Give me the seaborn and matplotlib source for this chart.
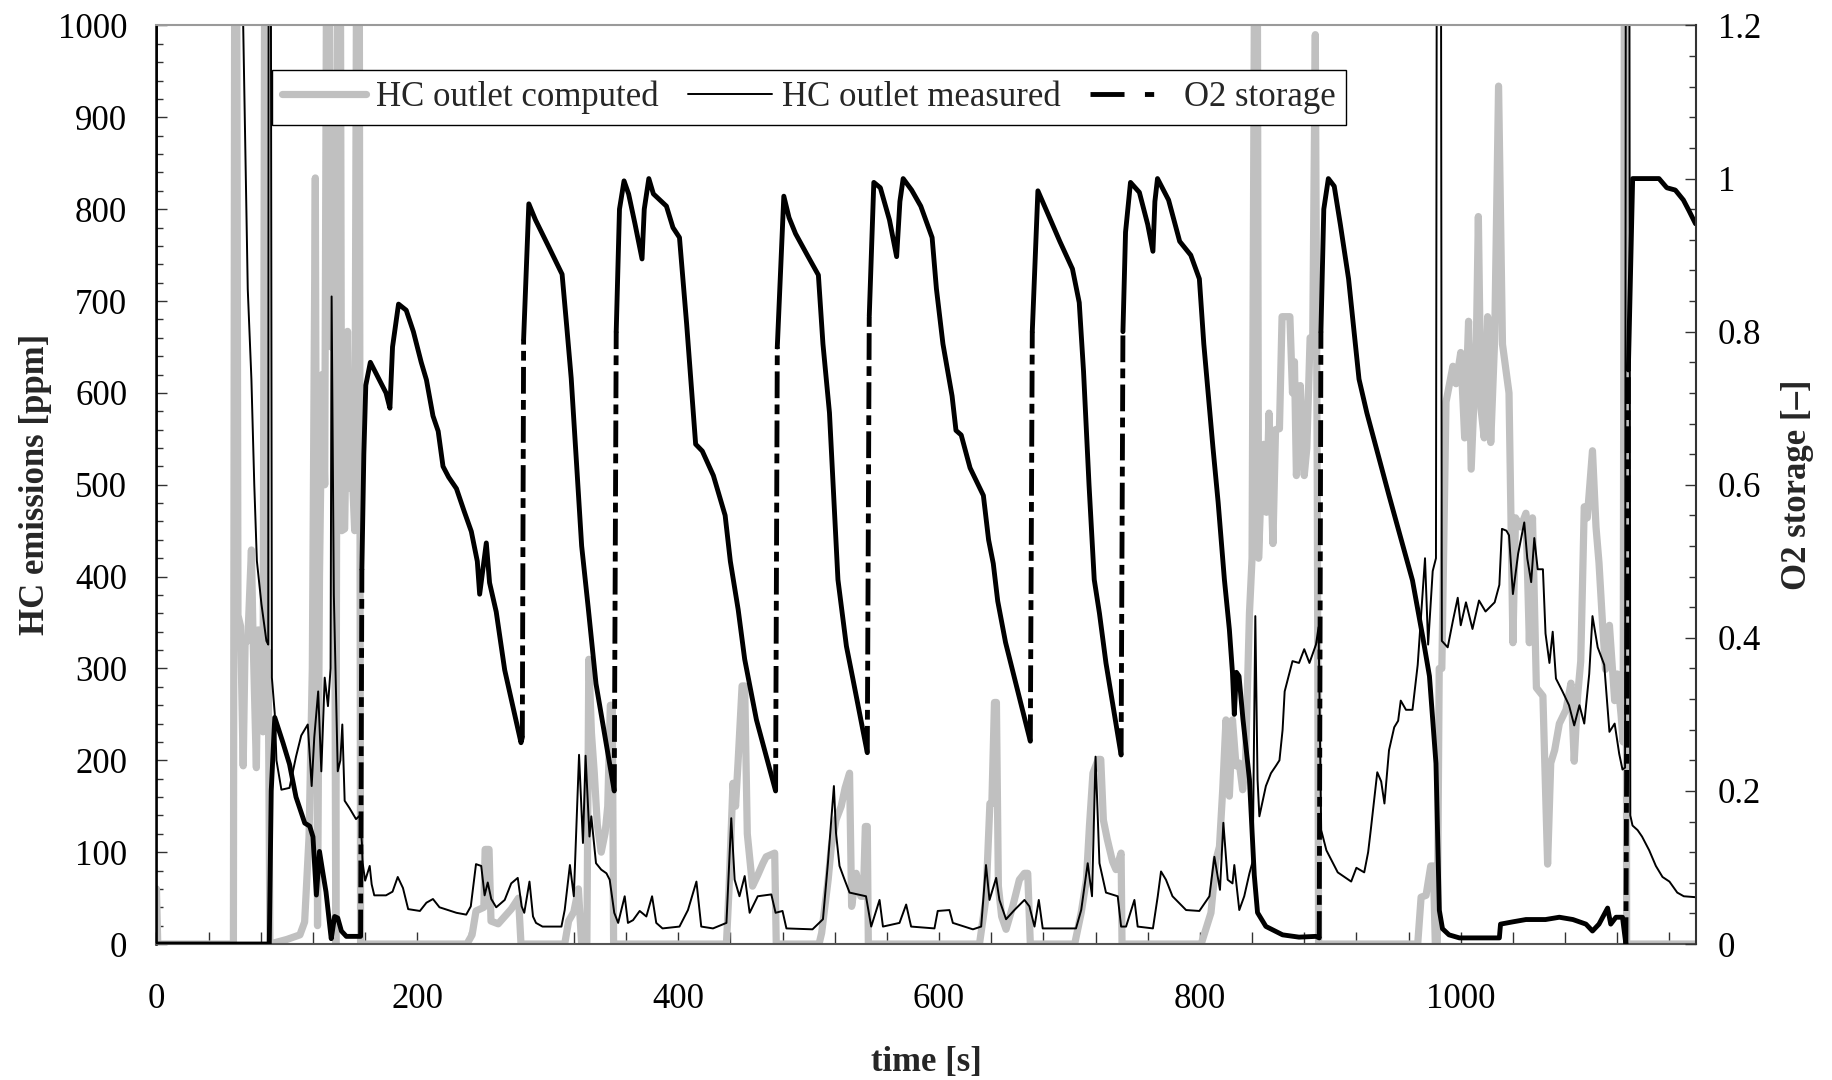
import numpy as np
import pandas as pd
import matplotlib
matplotlib.use("Agg")
import matplotlib.pyplot as plt
from matplotlib.lines import Line2D
from matplotlib.ticker import MultipleLocator
import seaborn as sns

# ---------------- data ----------------
# HC outlet computed [ppm] (grey)
comp_t = [0, 1, 59, 60, 61.5, 62.5, 64.5, 66.5, 68, 70, 72.8, 74, 76.6, 78, 79.5, 81.7, 83, 84.5, 85.6, 87,
          100, 110, 113.6, 117, 119.5, 121.8, 123.5, 125, 127, 129, 130.5, 132.5, 134, 136, 137.5, 139, 141,
          142, 144.3, 146.5, 148, 150.4, 152, 153.5, 155.5, 156.5,
          238, 242, 245, 251, 252, 255, 256.5, 262, 267, 272, 277.6, 279.5,
          313, 316, 320, 323.5, 326, 330, 331.5, 333.5, 335.7, 338, 341, 344, 346, 348, 349.5, 350.5,
          437, 439, 442, 444, 446, 449, 451, 453, 457, 461, 465, 467.5, 474, 475.2,
          508, 510, 515, 517.4, 521, 525, 528, 531.4, 533, 536.5, 540, 542, 543.5, 545, 545.8,
          631, 636, 639, 640.5, 642.5, 644, 645.5, 648, 651.4, 656.5, 661.6, 665.5, 668, 670,
          704, 709, 713, 715.3, 718, 722, 724, 726, 729, 733, 735.7, 739.6, 740.3,
          801, 808.5, 812.4, 815, 817.5, 820, 822.6, 825, 827.7, 830.2, 832.8, 835, 838, 840, 842, 844,
          845, 847, 849, 851, 853, 856, 858, 861, 863, 869, 871, 872.5, 874, 876, 877, 880, 882, 884.5,
          886.5, 888.5, 890, 891,
          967, 969.6, 973.4, 977, 979, 980.5, 982, 983.5, 985.5, 988.7, 994, 996.4, 1000, 1003, 1006, 1008,
          1012, 1013.5, 1015.5, 1018, 1020.6, 1023, 1026, 1029, 1032, 1037, 1040, 1042, 1046, 1050, 1052.6,
          1055, 1058, 1063, 1066.6, 1069, 1072, 1075.6, 1080.7, 1084.5, 1087, 1089.6, 1092, 1094.7, 1097,
          1101, 1103.7, 1106, 1109, 1111, 1114, 1118, 1120, 1123, 1124.5, 1125.5, 1126.5, 1127.2, 1180]
comp_v = [60, 0, 0, 1100, 1100, 358, 346, 194, 330, 330, 429, 338, 192, 342, 298, 231, 1100, 260, 318, 0,
          5, 10, 24, 117, 300, 834, 20, 400, 620, 500, 1100, 1100, 650, 784, 0, 1100, 1100,
          450, 452, 667, 496, 503, 450, 1100, 1100, 0,
          0, 10, 36, 40, 103, 103, 25, 22, 30, 38, 50, 0,
          0, 25, 35, 60, 0, 0, 310, 230, 186, 130, 100, 121, 150, 260, 260, 0,
          0, 60, 175, 150, 200, 281, 281, 120, 63, 75, 88, 95, 99, 0,
          0, 12, 70, 106, 135, 150, 170, 186, 41, 77, 52, 52, 128, 128, 0,
          0, 50, 153, 153, 263, 263, 63, 30, 16, 41, 70, 77, 77, 0,
          0, 34, 70, 128, 186, 201, 201, 135, 114, 90, 81, 99, 0,
          0, 34, 92, 106, 168, 244, 161, 244, 194, 197, 168, 200, 360, 420, 1100, 1100,
          420, 500, 544, 470, 578, 436, 560, 561, 683, 683, 600, 634, 510, 560, 608, 510, 540, 660,
          658, 990, 500, 0,
          0, 51, 53, 85, 85, 0, 0, 300, 300, 590, 629, 610, 644, 551, 678, 517,
          658, 792, 583, 551, 683, 546, 658, 934, 653, 600, 328, 464, 454, 469, 328,
          464, 279, 270, 87, 197, 211, 240, 255, 284, 199, 270, 308, 476, 464,
          537, 454, 415, 342, 299, 347, 265, 294, 248, 220, 1100, 1100, 0, 0]

# HC outlet measured [ppm] (thin black)
meas_t = [0, 0.5, 64, 66.5, 70, 72.8, 75, 77, 80.5, 84.3, 85.7, 86.2, 87.3, 88.5, 90.7, 92, 95.8, 102, 107,
          111, 116, 119, 121, 124, 126.4, 129, 131.5, 133.5, 134.3, 136, 139, 141, 142.5, 144.3, 148, 153,
          156, 157.5, 158, 160, 163.5, 165, 167, 176, 181, 185, 189, 193, 202, 207, 212, 217, 230, 237.5,
          241, 245, 249, 251.6, 254, 256.7, 260.5, 267, 272, 277, 280, 282, 286, 288.7, 291, 296, 310.5,
          313, 317, 320, 324, 327, 329, 332, 333.4, 337, 341, 345, 347.5, 351, 354, 359, 361.5, 365.4,
          370.5, 375.6, 380, 383.2, 388, 401, 407.5, 414, 417.7, 426.7, 437, 440.7, 443.3, 447, 451,
          454.8, 461, 471.4, 474.7, 480, 483, 503, 511, 514.8, 519.4, 521, 523.7, 527.6, 531.4, 544, 548,
          554.4, 557, 569.7, 574.8, 578.6, 596.5, 599, 608, 610.6, 626, 632.3, 636, 638.7, 643.8, 646.3,
          651.4, 657.8, 665.5, 669.3, 673.2, 676.5, 679.5, 705, 709, 714, 717.3, 720, 723, 728, 737,
          739.6, 743.4, 749.8, 752.3, 764, 767.7, 770.2, 774, 779, 789.4, 799.6, 807.3, 811.1, 815.4, 818,
          821.3, 825, 826.4, 830.2, 834, 838, 840.5, 842.5, 844.2, 845.6, 850.6, 854.5, 858.3, 861, 863.4,
          865, 871, 876, 880, 884, 889, 891, 893, 897, 900.6, 905.7, 916, 920, 926, 929, 931, 936, 939,
          941.5, 945, 949, 952, 954, 958, 963, 967, 972.6, 975, 978.5, 981, 982, 984.5, 985.5, 990, 994,
          997.7, 1000, 1004, 1009, 1014, 1019, 1026, 1029.6, 1031.6, 1035, 1037, 1040, 1044, 1048.7, 1051,
          1054, 1056.4, 1059, 1063, 1065, 1068, 1070.5, 1073, 1078, 1083, 1087, 1091, 1094.7, 1098.5, 1101,
          1105, 1110, 1114, 1118, 1121.5, 1124, 1126, 1126.8, 1129, 1130, 1131.7, 1135.6, 1139, 1144.5,
          1149.6, 1154.7, 1160, 1166, 1171, 1180]
meas_v = [0, 1500, 1500, 1000, 713, 615, 500, 417, 370, 330, 326, 1500, 1500, 290, 251, 200, 168, 170, 204,
          227, 239, 172, 225, 275, 188, 290, 259, 300, 705, 380, 188, 200, 239, 156, 148, 136,
          140, 110, 89, 69, 85, 65, 53, 53, 57, 73, 61, 38, 36, 45, 49, 40, 34, 32,
          41, 87, 85, 53, 67, 49, 40, 48, 66, 72, 41, 34, 68, 30, 23, 19, 19,
          37, 86, 52, 206, 110, 205, 117, 139, 88, 81, 77, 70, 34, 23, 52, 23, 26,
          36, 30, 52, 23, 17, 19, 37, 68, 19, 17, 23, 137, 70, 52, 74,
          34, 52, 54, 34, 36, 17, 16, 27, 88, 172, 121, 85, 70, 56, 52, 19,
          48, 19, 23, 43, 19, 17, 36, 37, 23, 16, 19, 86, 48, 72, 48,
          27, 37, 48, 41, 19, 48, 17, 17, 37, 88, 52, 204, 88, 56, 52,
          19, 19, 48, 19, 17, 52, 79, 70, 52, 37, 36, 52, 95, 59, 132,
          70, 66, 86, 37, 52, 77, 90, 357, 179, 139, 172, 186, 194, 200, 233,
          275, 308, 306, 321, 306, 326, 345, 124, 102, 92, 78, 68, 83, 78, 100, 124, 187, 177,
          153, 211, 236, 243, 265, 255, 255, 304, 420, 326, 406, 420, 1500, 1500, 330, 323, 352,
          377, 347, 372, 343, 374, 362, 372, 391, 452, 450, 445, 381, 425, 459, 420,
          394, 442, 408, 408, 338, 306, 340, 289, 275, 260, 238, 260, 240, 294, 357,
          323, 304, 231, 240, 207, 190, 192, 1500, 1500, 140, 129, 124, 117, 102,
          85, 73, 68, 56, 52, 51]

# O2 storage [-] (thick black, right axis)
o2_t = [0, 86.5, 88, 90.7, 97, 102, 107, 113.7, 117.5, 120, 122.6, 125, 127.7, 130, 133, 134, 136.6, 139,
        141.8, 145.6, 153, 156.5, 157.5, 159, 160.5, 164, 170, 176, 179, 181, 185.6, 191.5, 197, 203, 207,
        212, 216, 219.7, 224, 230, 236, 241.4, 246, 247.8, 252.9, 255.4, 260.5, 267, 279.5, 280.5, 281.5,
        285.5, 290.6, 301, 311, 314.5, 318, 322, 326, 331, 337, 351, 352.5, 355, 358.5, 362, 367, 372.3,
        374, 377.5, 381, 391, 396, 401, 406.5, 413.4, 418.5, 427, 436, 440, 446, 451, 460, 474.7, 476,
        481, 485, 490, 499, 507.5, 511, 516, 522.5, 529, 534, 545, 546.5, 550, 555, 562, 567.5, 570,
        572.5, 579, 586, 594.7, 598, 603, 610, 613, 617, 623.8, 634, 638, 641.6, 645, 651, 670, 671.5,
        675.8, 685.5, 692.6, 702.3, 707.5, 710.8, 715, 719, 723, 728, 739.6, 741, 743, 746.8, 753.6, 760,
        764, 765.5, 767.5, 776, 784.5, 793, 799.6, 803, 810, 814, 818.8, 822.6, 825, 826.4, 828, 830, 833,
        838, 841.7, 844.2, 850.6, 863.4, 876, 889, 891.5, 892.8, 895, 898.5, 903, 907.7, 914, 922, 928,
        945, 963, 971, 976, 981, 983.6, 986, 991, 999, 1029.6, 1030.5, 1040, 1050, 1065, 1075.6, 1086,
        1096, 1101, 1106, 1112.6, 1115, 1119, 1124, 1126.6, 1128.5, 1131.8, 1152, 1158, 1164.5, 1170.7,
        1175, 1180]
o2_v = [0, 0, 0.20, 0.296, 0.263, 0.235, 0.192, 0.158, 0.154, 0.140, 0.064, 0.121, 0.092, 0.068, 0.022,
        0.007, 0.036, 0.034, 0.017, 0.010, 0.010, 0.010, 0.49, 0.64, 0.73, 0.76, 0.74, 0.72, 0.70, 0.78,
        0.836, 0.828, 0.80, 0.76, 0.737, 0.69, 0.67, 0.624, 0.61, 0.595, 0.565, 0.539, 0.50, 0.457, 0.524,
        0.472, 0.434, 0.358, 0.263, 0.27, 0.79, 0.967, 0.946, 0.91, 0.875, 0.808, 0.739, 0.63, 0.52, 0.44,
        0.34, 0.20, 0.80, 0.96, 0.997, 0.98, 0.94, 0.895, 0.96, 1.0, 0.98, 0.964, 0.936, 0.923, 0.81,
        0.653, 0.644, 0.612, 0.56, 0.50, 0.437, 0.372, 0.293, 0.20, 0.78, 0.977, 0.949, 0.928, 0.90,
        0.874, 0.784, 0.694, 0.476, 0.389, 0.346, 0.25, 0.82, 0.995, 0.988, 0.946, 0.898, 0.97, 1.0,
        0.985, 0.964, 0.923, 0.856, 0.784, 0.716, 0.671, 0.665, 0.622, 0.586, 0.528, 0.497, 0.448,
        0.394, 0.265, 0.80, 0.984, 0.946, 0.918, 0.882, 0.838, 0.748, 0.60, 0.476, 0.432, 0.367, 0.247,
        0.80, 0.93, 0.995, 0.982, 0.94, 0.905, 0.97, 1.0, 0.972, 0.918, 0.90, 0.869, 0.784, 0.649,
        0.577, 0.476, 0.411, 0.354, 0.30, 0.355, 0.35, 0.294, 0.215, 0.09, 0.041, 0.023, 0.012, 0.009,
        0.01, 0.008, 0.80, 0.96, 1.0, 0.99, 0.94, 0.869, 0.738, 0.694, 0.586, 0.475, 0.40, 0.35, 0.236,
        0.044, 0.02, 0.012, 0.008, 0.008, 0.026, 0.029, 0.032, 0.032, 0.035, 0.032, 0.026, 0.017, 0.026,
        0.047, 0.026, 0.035, 0.035, 0.0, 0.75, 1.0, 1.0, 0.988, 0.985, 0.972, 0.958, 0.941]

x_ticks = [0, 200, 400, 600, 800, 1000]
y_left_ticks = [0, 100, 200, 300, 400, 500, 600, 700, 800, 900, 1000]
y_right_ticks = [0, 0.2, 0.4, 0.6, 0.8, 1.0, 1.2]
y_right_labels = ["0", "0.2", "0.4", "0.6", "0.8", "1", "1.2"]
legend_labels = ["HC outlet computed", "HC outlet measured", "O2 storage"]

assert len(comp_t) == len(comp_v)
assert len(meas_t) == len(meas_v)
assert len(o2_t) == len(o2_v)

# O2 storage split into runs: steep rises drawn dashed, the rest solid
rows = []
unit = 0
prev = None
for i in range(len(o2_t) - 1):
    kind = "rise" if (o2_v[i + 1] - o2_v[i]) > 0.3 else "flow"
    if kind == "rise" or kind != prev:
        unit += 1
        rows.append(dict(unit=unit, kind=kind, t=o2_t[i], v=o2_v[i]))
    rows.append(dict(unit=unit, kind=kind, t=o2_t[i + 1], v=o2_v[i + 1]))
    prev = kind
o2_df = pd.DataFrame(rows)

# ---------------- figure ----------------
sns.set_style("white")
plt.rcParams["font.family"] = ["Liberation Serif", "DejaVu Serif"]

FS = 25
GREY = "#c0c0c0"
LW_O2 = 3.5

fig = plt.figure(figsize=(18.32, 10.80), dpi=100)
ax = fig.add_axes([0.0854, 0.1259, 0.8401, 0.8505])
ax2 = ax.twinx()

sns.lineplot(x=comp_t, y=comp_v, ax=ax, color=GREY, linewidth=5.2, estimator=None, sort=False,
             errorbar=None, legend=False, solid_capstyle="round", solid_joinstyle="round")
sns.lineplot(x=meas_t, y=meas_v, ax=ax, color="black", linewidth=1.4, estimator=None, sort=False,
             errorbar=None, legend=False)
sns.lineplot(data=o2_df, x="t", y="v", units="unit", style="kind",
             dashes={"flow": "", "rise": (5.5, 1.3, 2.0, 1.3)},
             estimator=None, sort=False, errorbar=None, legend=False, ax=ax2,
             color="black", linewidth=LW_O2, solid_capstyle="round", solid_joinstyle="round")

ax.set_xlim(0, 1180)
ax.set_ylim(0, 1000)
ax2.set_ylim(0, 1.2)

ax.set_xticks(x_ticks)
ax.set_xticklabels([str(v) for v in x_ticks])
ax.xaxis.set_minor_locator(MultipleLocator(40))
ax.set_yticks(y_left_ticks)
ax.set_yticklabels([str(v) for v in y_left_ticks])
ax.yaxis.set_minor_locator(MultipleLocator(20))
ax2.set_yticks(y_right_ticks)
ax2.set_yticklabels(y_right_labels)
ax2.yaxis.set_minor_locator(MultipleLocator(0.04))

ax.tick_params(axis="x", which="both", direction="in", length=9, width=1, pad=28,
               labelsize=FS, top=False, bottom=True, colors="#333333", labelcolor="black")
ax.tick_params(axis="y", which="major", direction="in", length=8, width=1, pad=21,
               labelsize=FS, left=True, right=False, colors="#333333", labelcolor="black")
ax.tick_params(axis="y", which="minor", direction="in", length=5, width=1, left=True, right=False,
               colors="#333333")
ax2.tick_params(axis="y", which="major", direction="in", length=8, width=1, pad=16,
                labelsize=FS, right=True, left=False, colors="#333333", labelcolor="black")
ax2.tick_params(axis="y", which="minor", direction="in", length=5, width=1, right=True, left=False,
                colors="#333333")

for s in ["left", "top", "bottom"]:
    ax2.spines[s].set_visible(False)
ax.spines["right"].set_visible(False)
ax.spines["top"].set_color("#9a9a9a")
ax.spines["top"].set_linewidth(1.5)
ax.spines["left"].set_color("black")
ax.spines["left"].set_linewidth(1.8)
ax.spines["bottom"].set_color("#555555")
ax.spines["bottom"].set_linewidth(1.5)
ax2.spines["right"].set_color("#333333")
ax2.spines["right"].set_linewidth(1.5)

ax.set_xlabel("time [s]", fontsize=FS, fontweight="bold", labelpad=22)
ax.set_ylabel("HC emissions [ppm]", fontsize=FS, fontweight="bold", labelpad=4)
ax2.set_ylabel("O2 storage [\u2013]", fontsize=FS, fontweight="bold", labelpad=14)

handles = [
    Line2D([], [], color=GREY, linewidth=5.2, solid_capstyle="round"),
    Line2D([], [], color="black", linewidth=1.4),
    Line2D([], [], color="black", linewidth=LW_O2, linestyle=(0, (7, 4.2, 1.9, 4.2))),
]
leg = ax2.legend(handles, legend_labels, loc="upper left", bbox_to_anchor=(0.075, 0.951), ncol=3,
                 fontsize=FS, frameon=True, fancybox=False, edgecolor="black", framealpha=1,
                 borderpad=0.3, handlelength=2.4, handletextpad=0.3, columnspacing=0.85,
                 borderaxespad=0)
leg.get_frame().set_linewidth(1.0)
leg.set_zorder(10)

fig.savefig("out.png", dpi=100, facecolor="white")
